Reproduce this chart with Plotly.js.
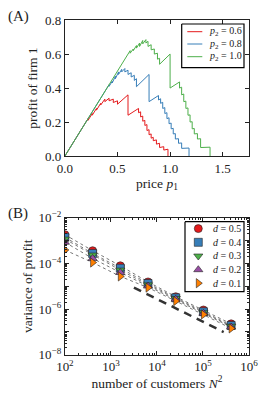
<!DOCTYPE html>
<html>
<head>
<meta charset="utf-8">
<script src="https://cdn.plot.ly/plotly-3.0.1.min.js"></script>
<style>html,body{margin:0;padding:0;background:#fff;}#chart{width:266px;height:394px;}</style>
</head>
<body>
<div id="chart"></div>
<script>
// ---- Panel A data: profit of firm 1 vs price p1 ----
var redP = [0,0.20,0.22,0.22,0.26,0.26,0.30,0.30,0.34,0.34,0.38,0.38,0.42,0.42,0.46,0.46,0.50,0.50,0.60,0.60,0.70,0.70,0.72,0.72,0.74,0.74,0.76,0.76,0.78,0.78,0.80,0.80,0.82,0.82,0.84,0.84,0.87,0.87,0.90,0.90,0.94,0.94,0.98,0.98];
var redV = [0,0.20,0.22,0.21,0.25,0.24,0.28,0.27,0.31,0.30,0.335,0.32,0.34,0.325,0.335,0.315,0.325,0.305,0.36,0.24,0.28,0.255,0.26,0.23,0.235,0.205,0.21,0.18,0.185,0.15,0.155,0.125,0.13,0.105,0.11,0.09,0.095,0.07,0.075,0.05,0.055,0.035,0.04,0];
var blueP = [0,0.40,0.42,0.42,0.45,0.45,0.48,0.48,0.51,0.51,0.54,0.54,0.57,0.57,0.60,0.60,0.63,0.63,0.66,0.66,0.68,0.68,0.80,0.80,0.89,0.89,0.91,0.91,0.93,0.93,0.95,0.95,0.97,0.97,0.99,0.99,1.01,1.01,1.03,1.03,1.05,1.05,1.08,1.08,1.11,1.11,1.18,1.18];
var blueV = [0,0.40,0.42,0.41,0.44,0.43,0.47,0.455,0.495,0.48,0.51,0.495,0.515,0.495,0.505,0.48,0.49,0.465,0.475,0.445,0.455,0.408,0.48,0.32,0.356,0.33,0.337,0.31,0.316,0.28,0.285,0.25,0.255,0.22,0.225,0.19,0.194,0.16,0.163,0.13,0.132,0.10,0.102,0.075,0.077,0.045,0.047,0];
var greenP = [0,0.60,0.62,0.62,0.65,0.65,0.68,0.68,0.71,0.71,0.74,0.74,0.77,0.77,0.79,0.79,0.82,0.82,0.85,0.85,0.88,0.88,0.90,0.90,1.00,1.00,1.09,1.09,1.11,1.11,1.13,1.13,1.15,1.15,1.17,1.17,1.19,1.19,1.21,1.21,1.23,1.23,1.26,1.26,1.29,1.29,1.38,1.38];
var greenV = [0,0.60,0.62,0.605,0.63,0.62,0.65,0.635,0.665,0.645,0.68,0.66,0.685,0.665,0.675,0.645,0.655,0.625,0.63,0.60,0.605,0.57,0.575,0.54,0.60,0.40,0.436,0.40,0.405,0.36,0.365,0.32,0.323,0.28,0.283,0.24,0.242,0.20,0.202,0.16,0.162,0.13,0.132,0.10,0.102,0.05,0.052,0];
var lineNames = ['<i>p</i><sub>2</sub> = 0.6','<i>p</i><sub>2</sub> = 0.8','<i>p</i><sub>2</sub> = 1.0'];

// ---- Panel B data: variance of profit vs number of customers ----
var customers = [100,400,1600,6400,25600,102400,409600];
var varD05 = [1.84e-3,3.63e-4,7.9e-5,1.55e-5,3.47e-6,9.1e-7,2.24e-7];
var varD04 = [1.41e-3,2.75e-4,6.2e-5,1.32e-5,3.1e-6,7.6e-7,1.9e-7];
var varD03 = [1.17e-3,2.34e-4,5.1e-5,1.15e-5,2.9e-6,6.9e-7,1.74e-7];
var varD02 = [8.5e-4,1.66e-4,4.0e-5,1.02e-5,2.7e-6,6.5e-7,1.62e-7];
var varD01 = [3.9e-4,1.1e-4,2.7e-5,8.7e-6,2.24e-6,5.75e-7,1.41e-7];
var dNames = ['<i>d</i> = 0.5','<i>d</i> = 0.4','<i>d</i> = 0.3','<i>d</i> = 0.2','<i>d</i> = 0.1'];
var refX = [3162, 281838];
var refY = [8.7e-6, 9.8e-8];

var xTicksA = [0,0.5,1,1.5];
var xTextA = ['0.0','0.5','1.0','1.5'];
var yTicksA = [0,0.2,0.4,0.6,0.8];
var yTextA = ['0.0','0.2','0.4','0.6','0.8'];
var xTicksB = [1e2,1e3,1e4,1e5,1e6];
var xTextB = ['10<sup>2</sup>','10<sup>3</sup>','10<sup>4</sup>','10<sup>5</sup>','10<sup>6</sup>'];
var yTicksB = [1e-8,1e-7,1e-6,1e-5,1e-4,1e-3,1e-2];
var yTextB = ['10<sup>−8</sup>',' ','10<sup>−6</sup>',' ','10<sup>−4</sup>',' ','10<sup>−2</sup>'];

var set1 = ['#e41a1c','#377eb8','#4daf4a','#984ea3','#ff7f00'];
var symbols = ['circle','square','triangle-down','triangle-up','triangle-right'];

var F = 'Liberation Serif, Times New Roman, serif';
var TXT = '#222';

var traces = [];
[[redP,redV],[blueP,blueV],[greenP,greenV]].forEach(function(s,i){
  traces.push({x:s[0], y:s[1], type:'scatter', mode:'lines', showlegend:false,
    line:{color:set1[i], width:1}, xaxis:'x', yaxis:'y'});
});
traces.push({x:refX, y:refY, type:'scatter', mode:'lines', showlegend:false,
  line:{color:'#333', width:2.5, dash:'8px,6px'}, xaxis:'x2', yaxis:'y2'});
var series = [varD05,varD04,varD03,varD02,varD01];
series.forEach(function(v){
  traces.push({x:customers, y:v, type:'scatter', mode:'lines', showlegend:false,
    line:{color:'#777', width:1, dash:'dot'}, xaxis:'x2', yaxis:'y2'});
});
series.forEach(function(v,i){
  traces.push({x:customers, y:v, type:'scatter', mode:'markers', showlegend:false, name:dNames[i],
    marker:{symbol:symbols[i], color:set1[i], size:8, line:{color:'#222', width:0.6}},
    xaxis:'x2', yaxis:'y2'});
});

// ---- hand-built legends, laid out in pixel units on a hidden overlay axis ----
var W = 266, H = 394;
var legA = {x0:181.7, x1:244, y0:24, y1:67.7, rows:[31.7,44,56.7], s0:187.3, s1:202.3, tx:206.5};
var legB = {x0:185, x1:244, y0:221.7, y1:291.7, rows:[228.6,242.3,256,269.7,283.2], mx:198.3, tx:210.5};
var annotations = [];
function px(x){return x/W;} function py(y){return 1-y/H;}
[legA, legB].forEach(function(L){
  traces.push({x:[L.x0,L.x1,L.x1,L.x0,L.x0], y:[L.y0,L.y0,L.y1,L.y1,L.y0], type:'scatter', mode:'lines',
    showlegend:false, cliponaxis:false, line:{color:'#000', width:1.2}, xaxis:'x3', yaxis:'y3'});
});
lineNames.forEach(function(n,i){
  traces.push({x:[legA.s0,legA.s1], y:[legA.rows[i],legA.rows[i]], type:'scatter', mode:'lines', showlegend:false,
    cliponaxis:false, line:{color:set1[i], width:1}, xaxis:'x3', yaxis:'y3'});
  annotations.push({text:n, xref:'paper', yref:'paper', x:px(legA.tx), y:py(legA.rows[i]), xanchor:'left', yanchor:'middle',
    showarrow:false, font:{family:F, size:10, color:TXT}});
});
dNames.forEach(function(n,i){
  traces.push({x:[legB.mx], y:[legB.rows[i]], type:'scatter', mode:'markers', showlegend:false, cliponaxis:false,
    marker:{symbol:symbols[i], color:set1[i], size:8, line:{color:'#222', width:0.6}}, xaxis:'x3', yaxis:'y3'});
  annotations.push({text:n, xref:'paper', yref:'paper', x:px(legB.tx), y:py(legB.rows[i]), xanchor:'left', yanchor:'middle',
    showarrow:false, font:{family:F, size:10, color:TXT}});
});
annotations.push({text:'(A)', xref:'paper', yref:'paper', x:px(6), y:py(16), xanchor:'left', yanchor:'middle', showarrow:false, font:{family:F,size:15,color:TXT}});
annotations.push({text:'(B)', xref:'paper', yref:'paper', x:px(6), y:py(213), xanchor:'left', yanchor:'middle', showarrow:false, font:{family:F,size:15,color:TXT}});

var axBase = {showline:true, linecolor:'#222', linewidth:1, mirror:'ticks', ticks:'inside',
  ticklen:4, tickcolor:'#222', showgrid:false, zeroline:false, tickfont:{family:F, size:13, color:TXT}};
function ax(o){ var r = JSON.parse(JSON.stringify(axBase)); for (var k in o) r[k]=o[k]; return r; }
var tf = {family:F, size:13.5, color:TXT};

var layout = {
  width:W, height:H, margin:{l:0,r:0,t:0,b:0}, paper_bgcolor:'#fff', plot_bgcolor:'rgba(0,0,0,0)',
  font:{family:F, size:13, color:TXT}, showlegend:false,
  xaxis: ax({domain:[0.244,0.936], range:[0,1.75], tickvals:xTicksA, ticktext:xTextA, anchor:'y',
    title:{text:'price <i>p</i><sub>1</sub>', font:tf, standoff:2}}),
  yaxis: ax({domain:[0.604,0.949], range:[0,0.8], tickvals:yTicksA, ticktext:yTextA, anchor:'x',
    title:{text:'profit of firm 1', font:tf, standoff:4}}),
  xaxis2: ax({domain:[0.244,0.936], type:'log', range:[2,6], tickvals:xTicksB, ticktext:xTextB, anchor:'y2',
    minor:{ticks:'inside', ticklen:2, tickcolor:'#222', dtick:'D1'},
    title:{text:'number of customers <i>N</i><sup>2</sup>', font:tf, standoff:2}}),
  yaxis2: ax({domain:[0.100,0.447], type:'log', range:[-8,-2], tickvals:yTicksB, ticktext:yTextB, anchor:'x2',
    minor:{ticks:'inside', ticklen:2, tickcolor:'#222', dtick:'D1'},
    title:{text:'variance of profit', font:tf, standoff:2}}),
  xaxis3: {domain:[0,1], range:[0,W], visible:false, fixedrange:true, anchor:'y3'},
  yaxis3: {domain:[0,1], range:[H,0], visible:false, fixedrange:true, anchor:'x3'},
  annotations: annotations
};
Plotly.newPlot('chart', traces, layout, {displayModeBar:false, staticPlot:true});
</script>
</body>
</html>
